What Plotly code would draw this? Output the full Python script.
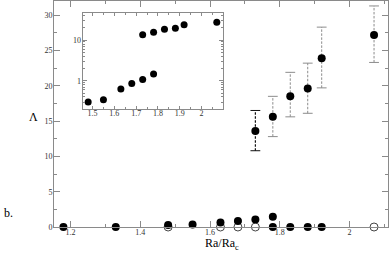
import plotly.graph_objects as go

# ---- data ----
x_zero_filled = [1.18, 1.33, 1.78, 1.83, 1.88, 1.92]
y_zero_filled = [0, 0, 0, 0, 0, 0]
x_zero_open = [1.48, 1.63, 1.68, 1.73, 2.07]
y_zero_open = [0, 0, 0, 0, 0]
x_low = [1.48, 1.55, 1.63, 1.68, 1.73, 1.78]
y_low = [0.30, 0.34, 0.63, 0.86, 1.07, 1.46]
x_high = [1.73, 1.78, 1.83, 1.88, 1.92, 2.07]
y_high = [13.6, 15.6, 18.5, 19.6, 23.9, 27.2]
err_hi = [16.5, 18.5, 21.9, 23.2, 28.3, 31.3]
err_lo = [10.8, 12.8, 15.6, 16.1, 19.7, 23.3]

main_xticks = [1.2, 1.4, 1.6, 1.8, 2.0]
main_xlabels = ["1.2", "1.4", "1.6", "1.8", "2"]
main_yticks = [0, 5, 10, 15, 20, 25, 30]
main_ylabels = ["0", "5", "10", "15", "20", "25", "30"]
inset_xticks = [1.5, 1.6, 1.7, 1.8, 1.9, 2.0]
inset_xlabels = ["1.5", "1.6", "1.7", "1.8", "1.9", "2"]
inset_yticks = [1, 10]
inset_ylabels = ["1", "10"]
inset_minor = [0.2, 0.3, 0.4, 0.5, 0.6, 0.7, 0.8, 0.9, 2, 3, 4, 5, 6, 7, 8, 9, 20, 30, 40]

AX = "#8a8a8a"
TXT = "#333333"
SERIF = "Liberation Serif"

fig = go.Figure()

# error bars as dashed line segments built from the data
for i, (x, lo, hi) in enumerate(zip(x_high, err_lo, err_hi)):
    col = "#111111" if i == 0 else "#8c8c8c"
    fig.add_trace(go.Scatter(x=[x, x], y=[lo, hi], mode="lines",
                             line=dict(color=col, width=1.2 if i == 0 else 1, dash="2.5px,1.5px"),
                             showlegend=False, hoverinfo="skip", cliponaxis=False))
    fig.add_trace(go.Scatter(x=[x, x], y=[lo, hi], mode="markers",
                             marker=dict(symbol="line-ew-open", size=7, color=col,
                                         line=dict(color=col, width=1)),
                             showlegend=False, hoverinfo="skip", cliponaxis=False))

mk = dict(color="black", size=8, symbol="circle")
fig.add_trace(go.Scatter(x=x_zero_open, y=y_zero_open, mode="markers",
                         marker=dict(symbol="circle-open", size=8, color="#444",
                                     line=dict(width=1, color="#444")),
                         showlegend=False, cliponaxis=False))
fig.add_trace(go.Scatter(x=x_zero_filled, y=y_zero_filled, mode="markers",
                         marker=mk, showlegend=False, cliponaxis=False))
fig.add_trace(go.Scatter(x=x_low, y=y_low, mode="markers",
                         marker=mk, showlegend=False, cliponaxis=False))
fig.add_trace(go.Scatter(x=x_high, y=y_high, mode="markers",
                         marker=mk, showlegend=False, cliponaxis=False))

# inset
mk2 = dict(color="black", size=7, symbol="circle")
fig.add_trace(go.Scatter(x=x_low, y=y_low, mode="markers", marker=mk2,
                         xaxis="x2", yaxis="y2", showlegend=False, cliponaxis=False))
fig.add_trace(go.Scatter(x=x_high, y=y_high, mode="markers", marker=mk2,
                         xaxis="x2", yaxis="y2", showlegend=False, cliponaxis=False))

axcommon = dict(showgrid=False, zeroline=False, showline=True, linecolor=AX,
                linewidth=1, mirror="ticks", ticks="inside", tickcolor=AX,
                tickfont=dict(family=SERIF, size=8, color=TXT), automargin=False)

fig.update_layout(
    width=390, height=255,
    margin=dict(l=54, r=2, t=1, b=28),
    paper_bgcolor="white", plot_bgcolor="white",
    xaxis=dict(range=[1.153, 2.11], tickmode="array", tickvals=main_xticks,
               ticktext=main_xlabels, ticklen=6, ticklabelstandoff=-3,
               minor=dict(dtick=0.1, tick0=0, ticklen=3, ticks="inside", tickcolor=AX),
               **axcommon),
    yaxis=dict(range=[0, 32], tickmode="array", tickvals=main_yticks,
               ticktext=main_ylabels, ticklen=6, ticklabelstandoff=-1,
               minor=dict(dtick=2.5, tick0=0, ticklen=3, ticks="inside", tickcolor=AX),
               **axcommon),
    xaxis2=dict(domain=[0.086, 0.507], anchor="y2", range=[1.455, 2.1],
                tickmode="array", tickvals=inset_xticks, ticktext=inset_xlabels,
                ticklen=3, ticklabelstandoff=-4,
                minor=dict(dtick=0.05, tick0=0, ticklen=2, ticks="inside", tickcolor=AX),
                **axcommon),
    yaxis2=dict(domain=[0.521, 0.946], anchor="x2", type="log", range=[-0.7, 1.66],
                tickmode="array", tickvals=inset_yticks, ticktext=inset_ylabels,
                ticklen=4, ticklabelstandoff=-1,
                minor=dict(tickmode="array", tickvals=inset_minor, ticklen=2,
                           ticks="inside", tickcolor=AX),
                **axcommon),
    annotations=[
        dict(text="Λ", x=33, y=117, xref="paper", yref="paper", showarrow=False,
             xanchor="center", yanchor="middle",
             font=dict(family=SERIF, size=12, color="black")),
        dict(text="b.", x=8, y=213, xref="paper", yref="paper", showarrow=False,
             xanchor="center", yanchor="middle",
             font=dict(family=SERIF, size=12, color="black")),
        dict(text="Ra/Ra<sub>c</sub>", x=222, y=244, xref="paper", yref="paper",
             showarrow=False, xanchor="center", yanchor="middle",
             font=dict(family=SERIF, size=12, color="black")),
    ],
)

# convert pixel positions of annotations into paper coordinates
pw, ph = 390 - 54 - 2, 255 - 1 - 28
for a in fig.layout.annotations:
    px, py = a.x, a.y
    a.x = (px - 54) / pw
    a.y = (255 - 28 - py) / ph

fig.write_html("out.html", config={"displayModeBar": False},
               post_script="document.body.style.margin='0';document.body.style.overflow='hidden';")
